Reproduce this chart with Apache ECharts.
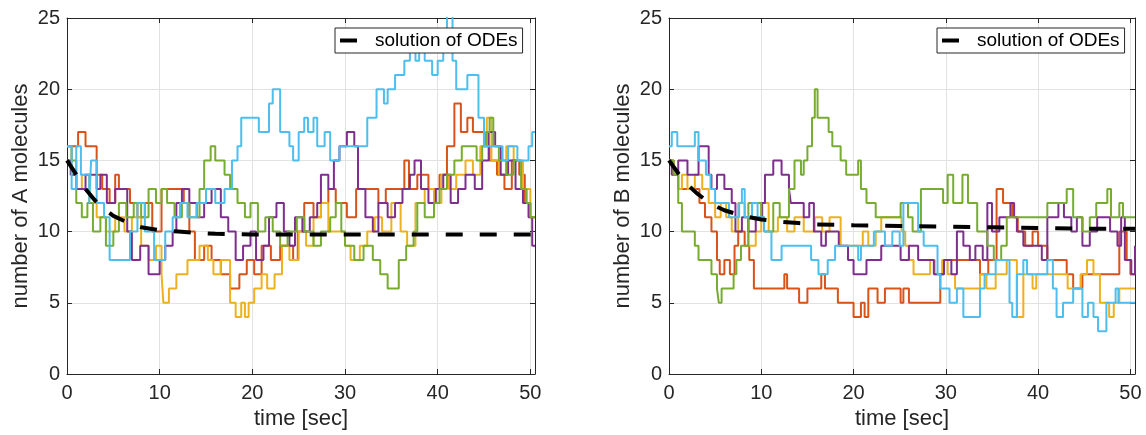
<!DOCTYPE html>
<html>
<head>
<meta charset="utf-8">
<script src="https://cdn.jsdelivr.net/npm/echarts@6/dist/echarts.min.js"></script>
<style>
html,body{margin:0;padding:0;background:#fff;}
#c{width:1146px;height:435px;}
</style>
</head>
<body>
<div id="c"></div>
<script>
// ---------- tick labels ----------
const xTicks = [0, 10, 20, 30, 40, 50];
const yTicks = [0, 5, 10, 15, 20, 25];
const xLabel = 'time [sec]';
const yLabelA = 'number of A molecules';
const yLabelB = 'number of B molecules';
const legendName = 'solution of ODEs';

// ---------- ODE solutions [time, value] ----------
const odeA = [[0,15],[1,14.0],[2,13.0],[3,12.2],[4,11.6],[5,11.1],[6,10.8],[7,10.5],[8,10.3],[9,10.2],[10,10.1],[12,10.0],[14,9.9],[16,9.85],[20,9.8],[25,9.8],[30,9.8],[35,9.8],[40,9.8],[45,9.8],[50.5,9.8]];
const odeB = [[0,15],[1,14.1],[2,13.3],[3,12.7],[4,12.2],[5,11.8],[6,11.5],[8,11.1],[10,10.85],[12,10.7],[14,10.6],[16,10.5],[20,10.45],[25,10.4],[30,10.35],[35,10.3],[40,10.25],[45,10.2],[50.5,10.2]];

// ---------- stochastic trajectories, A molecules [time, count] ----------
const aRed = [[0,16],[1.2,17],[2.0,16],[3.2,14],[3.8,13],[4.6,12],[5.2,14],[5.6,13],[6.8,12],[7.6,11],[8.4,12],[9.2,10],[10.2,13],[12.6,12],[13.2,10],[13.8,8],[14.8,9],[15.6,8],[16.6,7],[17.6,6],[18.6,7],[19.4,8],[20.2,7],[21.0,9],[22.0,8],[23.0,9],[24.4,8],[24.9,10],[25.6,12],[26.6,11],[27.4,12],[28.2,13],[29.0,12],[30.2,11],[31.2,13],[33.6,12],[34.4,13],[36.4,15],[36.9,13],[37.8,14],[39.0,13],[40.2,14],[41.0,16],[41.8,19],[42.5,17],[43.2,18],[43.8,17],[45.0,16],[45.6,15],[46.4,14],[47.2,13],[48.0,15],[48.8,14],[49.4,12],[50.0,11],[50.5,11]];
const aYellow = [[0,16],[0.5,14],[1.0,13],[1.6,14],[2.4,12],[3.2,11],[4.2,10],[5.2,11],[6.2,10],[7.0,11],[8.0,9],[8.8,8],[9.6,9],[10.2,7],[10.4,5],[11.0,6],[11.8,7],[13.0,8],[14.3,9],[15.2,8],[15.8,7],[16.6,8],[17.6,5],[18.2,4],[18.8,5],[19.2,4],[19.6,5],[20.2,6],[21.0,7],[21.6,6],[22.4,7],[23.2,9],[24.0,8],[25.0,10],[25.8,9],[26.6,11],[27.4,12],[28.2,10],[30.0,9],[30.6,8],[31.6,9],[32.4,10],[33.2,11],[34.0,10],[35.0,12],[36.0,10],[36.7,9],[37.6,12],[38.6,13],[39.6,12],[40.4,14],[41.2,13],[42.0,14],[43.0,15],[43.8,14],[44.6,16],[45.3,18],[45.8,15],[46.6,14],[47.4,16],[48.2,15],[49.2,13],[50.0,11],[50.5,11]];
const aPurple = [[0,15],[0.4,14],[1.0,13],[2.0,14],[3.2,13],[3.6,14],[4.3,12],[5.2,13],[6.5,10],[7.0,8],[7.9,9],[8.8,7],[10.0,8],[10.6,9],[11.4,10],[11.8,12],[12.4,13],[13.2,12],[14.0,11],[14.8,12],[15.6,13],[16.6,11],[17.4,10],[18.2,8],[19.0,9],[19.8,10],[20.4,8],[21.2,9],[21.8,11],[22.6,12],[23.4,10],[24.0,9],[24.6,11],[25.4,10],[26.2,11],[27.0,12],[27.4,14],[28.2,13],[28.8,15],[29.4,16],[30.2,17],[31.0,16],[31.4,13],[32.2,11],[33.0,10],[33.6,12],[34.6,11],[35.4,12],[36.2,13],[37.0,14],[37.5,15],[38.2,13],[39.0,12],[39.8,13],[40.6,14],[41.4,12],[42.2,13],[43.0,14],[44.0,13],[44.8,15],[45.5,17],[46.2,16],[46.8,14],[47.6,15],[48.4,13],[49.2,12],[49.8,11],[50.2,9],[50.5,9]];
const aGreen = [[0,16],[0.5,15],[1.0,12],[1.6,11],[2.2,12],[2.8,10],[3.6,11],[4.2,9],[5.0,10],[5.6,12],[6.4,11],[7.2,12],[8.0,11],[8.8,13],[9.6,12],[10.2,13],[10.8,12],[11.6,11],[12.4,12],[13.2,11],[14.3,13],[14.8,15],[15.5,16],[16.0,15],[17.0,14],[17.6,13],[18.4,12],[19.2,11],[19.8,12],[20.6,10],[21.4,11],[22.2,10],[23.0,9],[23.8,10],[24.8,11],[25.6,10],[26.6,9],[27.4,10],[28.4,11],[29.0,12],[29.6,10],[30.0,9],[31.0,8],[32.0,9],[33.0,8],[33.8,7],[34.6,6],[35.8,8],[36.6,9],[37.4,10],[37.8,12],[38.6,11],[39.6,12],[40.2,13],[41.0,14],[41.8,15],[42.6,16],[44.2,15],[44.8,16],[45.2,17],[45.6,18],[46.0,16],[46.6,15],[47.4,14],[48.2,15],[49.0,13],[49.6,12],[50.0,11],[50.5,11]];
const aCyan = [[0,16],[0.5,13],[1.0,16],[1.5,14],[2.4,12],[2.6,15],[3.2,12],[4.0,11],[4.6,8],[6.8,10],[7.6,12],[8.4,10],[9.4,8],[10.6,10],[11.4,11],[12.2,12],[13.0,11],[14.0,12],[15.0,13],[16.0,12],[17.0,13],[17.8,15],[18.4,16],[18.8,18],[20.7,17],[21.8,19],[22.2,20],[23.0,17],[24.0,16],[24.4,15],[25.0,17],[25.6,18],[26.0,17],[26.6,18],[27.0,16],[27.8,17],[28.4,15],[29.4,16],[32.4,18],[33.4,20],[34.2,19],[34.6,20],[35.4,21],[36.4,22],[37.0,23],[37.6,22],[38.0,24],[38.6,22],[39.4,21],[40.0,22],[40.6,24],[41.0,26],[41.6,22],[42.0,20],[43.2,21],[44.4,18],[45.0,16],[47.0,15],[47.6,16],[48.6,15],[49.8,16],[50.2,17],[50.5,17]];

// ---------- stochastic trajectories, B molecules [time, count] ----------
const bRed = [[0,15],[0.5,14],[1.0,13],[3.3,12],[3.9,11],[4.6,10],[5.2,8],[5.5,7],[6.0,8],[6.6,7],[7.1,9],[7.5,10],[8.2,9],[8.7,8],[9.2,6],[12.5,7],[12.8,6],[14.1,5],[15.0,6],[16.5,7],[16.9,6],[18.3,5],[20.0,4],[20.8,5],[21.2,4],[21.6,6],[22.6,5],[23.4,6],[25.1,5],[25.4,6],[26.0,5],[29.4,7],[29.8,8],[33.7,7],[34.6,8],[35.5,13],[36.2,12],[37.2,11],[37.8,10],[38.6,9],[39.4,10],[40.0,9],[41.0,8],[43.1,7],[43.8,6],[44.8,7],[48.8,10],[49.6,8],[50.0,7],[50.5,7]];
const bYellow = [[0,15],[0.4,14],[1.0,13],[1.4,14],[2.0,13],[2.8,14],[3.6,13],[4.3,12],[5.0,11],[5.6,12],[6.2,11],[6.8,10],[7.5,12],[8.2,11],[8.6,9],[9.4,10],[10.0,12],[10.8,10],[11.8,11],[12.8,10],[13.6,11],[14.6,10],[15.8,11],[16.6,10],[17.4,11],[18.6,9],[21.0,10],[21.6,9],[22.4,10],[23.0,11],[25.2,10],[25.6,9],[26.0,8],[26.5,7],[28.3,8],[28.8,7],[29.6,8],[30.2,7],[31.0,6],[33.7,7],[34.4,6],[35.4,7],[36.6,8],[37.7,4],[38.4,7],[39.4,6],[39.8,7],[43.2,6],[44.6,7],[45.3,8],[46.0,7],[46.7,5],[47.7,4],[48.2,5],[48.8,6],[50.5,6]];
const bPurple = [[0,15],[0.3,14],[1.0,15],[2.0,14],[3.2,16],[4.3,14],[4.6,13],[5.2,14],[6.0,13],[6.8,12],[7.2,10],[7.9,11],[8.6,10],[9.4,11],[10.1,12],[10.4,14],[11.3,15],[12.2,14],[13.0,13],[13.2,12],[14.6,11],[15.2,12],[15.7,10],[16.5,9],[17.0,10],[18.4,9],[19.4,8],[20.0,7],[21.4,8],[23.0,9],[25.1,8],[26.0,9],[27.0,8],[28.7,7],[29.8,8],[30.6,7],[31.2,10],[31.9,9],[32.6,8],[33.2,9],[34.0,8],[34.5,12],[35.0,10],[35.8,11],[37.0,12],[37.4,11],[37.7,10],[38.4,9],[40.4,8],[41.0,11],[42.2,12],[42.8,11],[43.6,10],[44.2,11],[44.8,9],[45.6,10],[46.4,11],[47.8,10],[48.6,9],[49.0,11],[49.4,8],[50.1,7],[50.5,9]];
const bGreen = [[0,15],[0.5,14],[1.0,12],[1.4,10],[2.8,9],[3.2,8],[4.6,7],[5.2,6],[5.4,5],[5.7,6],[7.0,7],[7.3,8],[7.8,9],[8.6,12],[10.0,11],[10.3,10],[11.3,12],[12.0,11],[13.0,13],[13.6,15],[14.3,14],[14.6,15],[15.0,16],[15.5,18],[15.8,20],[16.1,18],[17.3,17],[17.7,16],[18.6,15],[19.2,14],[20.5,15],[20.8,13],[21.4,12],[22.4,11],[25.1,12],[25.9,11],[26.4,10],[27.3,13],[29.7,12],[30.2,14],[30.8,12],[31.8,14],[32.4,12],[33.4,10],[34.5,9],[35.2,8],[36.0,9],[36.6,11],[41.0,12],[43.1,13],[43.8,11],[44.8,10],[45.6,11],[46.3,12],[47.5,13],[47.9,11],[48.8,12],[49.2,11],[50.5,11]];
const bCyan = [[0,16],[0.3,17],[0.9,16],[2.8,17],[3.2,15],[4.0,14],[4.5,13],[5.0,12],[6.5,11],[7.6,12],[7.9,13],[8.2,11],[9.0,12],[9.6,11],[10.3,10],[11.1,8],[12.2,9],[15.4,8],[16.2,7],[17.2,8],[18.0,9],[20.5,8],[20.8,9],[22.2,10],[23.4,9],[24.2,10],[25.0,9],[25.4,12],[27.0,10],[27.6,9],[29.1,7],[29.4,6],[30.4,5],[31.2,6],[31.9,4],[33.7,6],[34.2,7],[35.4,8],[36.9,5],[37.2,4],[37.7,7],[38.4,8],[38.8,7],[41.0,8],[41.6,6],[42.0,4],[42.7,5],[43.8,6],[44.8,4],[45.4,5],[46.0,4],[46.5,3],[47.4,5],[48.4,6],[48.7,5],[50.5,5]];

// ---------- styling ----------
const FONT = '"Liberation Sans", Arial, Helvetica, sans-serif';
const TXT = '#262626';
const GRIDC = '#e2e2e2';
const COLORS = ['#D95319', '#EDB120', '#7E2F8E', '#77AC30', '#4DBEEE'];
const X_MAX = 50.5;

const chart = echarts.init(document.getElementById('c'), null, {renderer: 'canvas'});

function xAxes(g) {
  return [{
    gridIndex: g, type: 'value', min: xTicks[0], max: X_MAX, interval: 10, position: 'bottom',
    axisLine: {show: true, onZero: false, lineStyle: {color: TXT, width: 1}},
    axisTick: {show: true, inside: true, length: 5, lineStyle: {color: TXT}},
    axisLabel: {show: true, fontSize: 20, color: TXT, fontFamily: FONT, margin: 9,
      formatter: v => (xTicks.indexOf(v) >= 0 ? String(v) : '')},
    splitLine: {show: true, lineStyle: {color: GRIDC, width: 1}},
    name: xLabel, nameLocation: 'middle', nameGap: 34,
    nameTextStyle: {fontSize: 22, color: TXT, fontFamily: FONT}
  }, {
    gridIndex: g, type: 'value', min: xTicks[0], max: X_MAX, interval: 10, position: 'top',
    axisLine: {show: true, onZero: false, lineStyle: {color: TXT, width: 1}},
    axisTick: {show: true, inside: true, length: 5, lineStyle: {color: TXT}},
    axisLabel: {show: false}, splitLine: {show: false}
  }];
}
function yAxes(g, name) {
  return [{
    gridIndex: g, type: 'value', min: yTicks[0], max: yTicks[yTicks.length - 1], interval: 5, position: 'left',
    axisLine: {show: true, onZero: false, lineStyle: {color: TXT, width: 1}},
    axisTick: {show: true, inside: true, length: 5, lineStyle: {color: TXT}},
    axisLabel: {show: true, fontSize: 20, color: TXT, fontFamily: FONT, margin: 7},
    splitLine: {show: true, lineStyle: {color: GRIDC, width: 1}},
    name: name, nameLocation: 'middle', nameGap: 35,
    nameTextStyle: {fontSize: 22, color: TXT, fontFamily: FONT}
  }, {
    gridIndex: g, type: 'value', min: yTicks[0], max: yTicks[yTicks.length - 1], interval: 5, position: 'right',
    axisLine: {show: true, onZero: false, lineStyle: {color: TXT, width: 1}},
    axisTick: {show: true, inside: true, length: 5, lineStyle: {color: TXT}},
    axisLabel: {show: false}, splitLine: {show: false}
  }];
}

function stepSeries(data, color, g) {
  return {
    type: 'line', xAxisIndex: g * 2, yAxisIndex: g * 2, data: data, step: 'end',
    symbol: 'none', clip: true, silent: true,
    lineStyle: {color: color, width: 2}, itemStyle: {color: color}, z: 2
  };
}
function odeSeries(data, g) {
  return {
    name: legendName, type: 'line', xAxisIndex: g * 2, yAxisIndex: g * 2, data: data,
    symbol: 'none', clip: true, silent: true, color: '#000',
    lineStyle: {color: '#000', width: 4, type: [17, 17]}, itemStyle: {color: '#000'}, z: 5
  };
}

const trajA = [aRed, aYellow, aPurple, aGreen, aCyan];
const trajB = [bRed, bYellow, bPurple, bGreen, bCyan];
const series = [];
trajA.forEach((d, i) => series.push(stepSeries(d, COLORS[i], 0)));
series.push(odeSeries(odeA, 0));
trajB.forEach((d, i) => series.push(stepSeries(d, COLORS[i], 1)));
series.push(odeSeries(odeB, 1));

function legend(left) {
  return {
    left: left, top: 28, orient: 'horizontal',
    data: [legendName], icon: 'rect', itemWidth: 17, itemHeight: 4,
    itemStyle: {color: '#000', borderWidth: 0},
    backgroundColor: '#fff', borderColor: TXT, borderWidth: 1, borderRadius: 0,
    padding: [3, 5, 3, 5], selectedMode: false,
    textStyle: {fontSize: 19, color: '#000', fontFamily: FONT, padding: [0, 0, 0, 13]}
  };
}

chart.setOption({
  animation: false,
  backgroundColor: '#fff',
  grid: [
    {left: 67, top: 18, width: 468, height: 357, containLabel: false},
    {left: 669, top: 18, width: 466, height: 357, containLabel: false}
  ],
  xAxis: [...xAxes(0), ...xAxes(1)],
  yAxis: [...yAxes(0, yLabelA), ...yAxes(1, yLabelB)],
  legend: [legend(335), legend(937)],
  series: series
});
</script>
</body>
</html>
